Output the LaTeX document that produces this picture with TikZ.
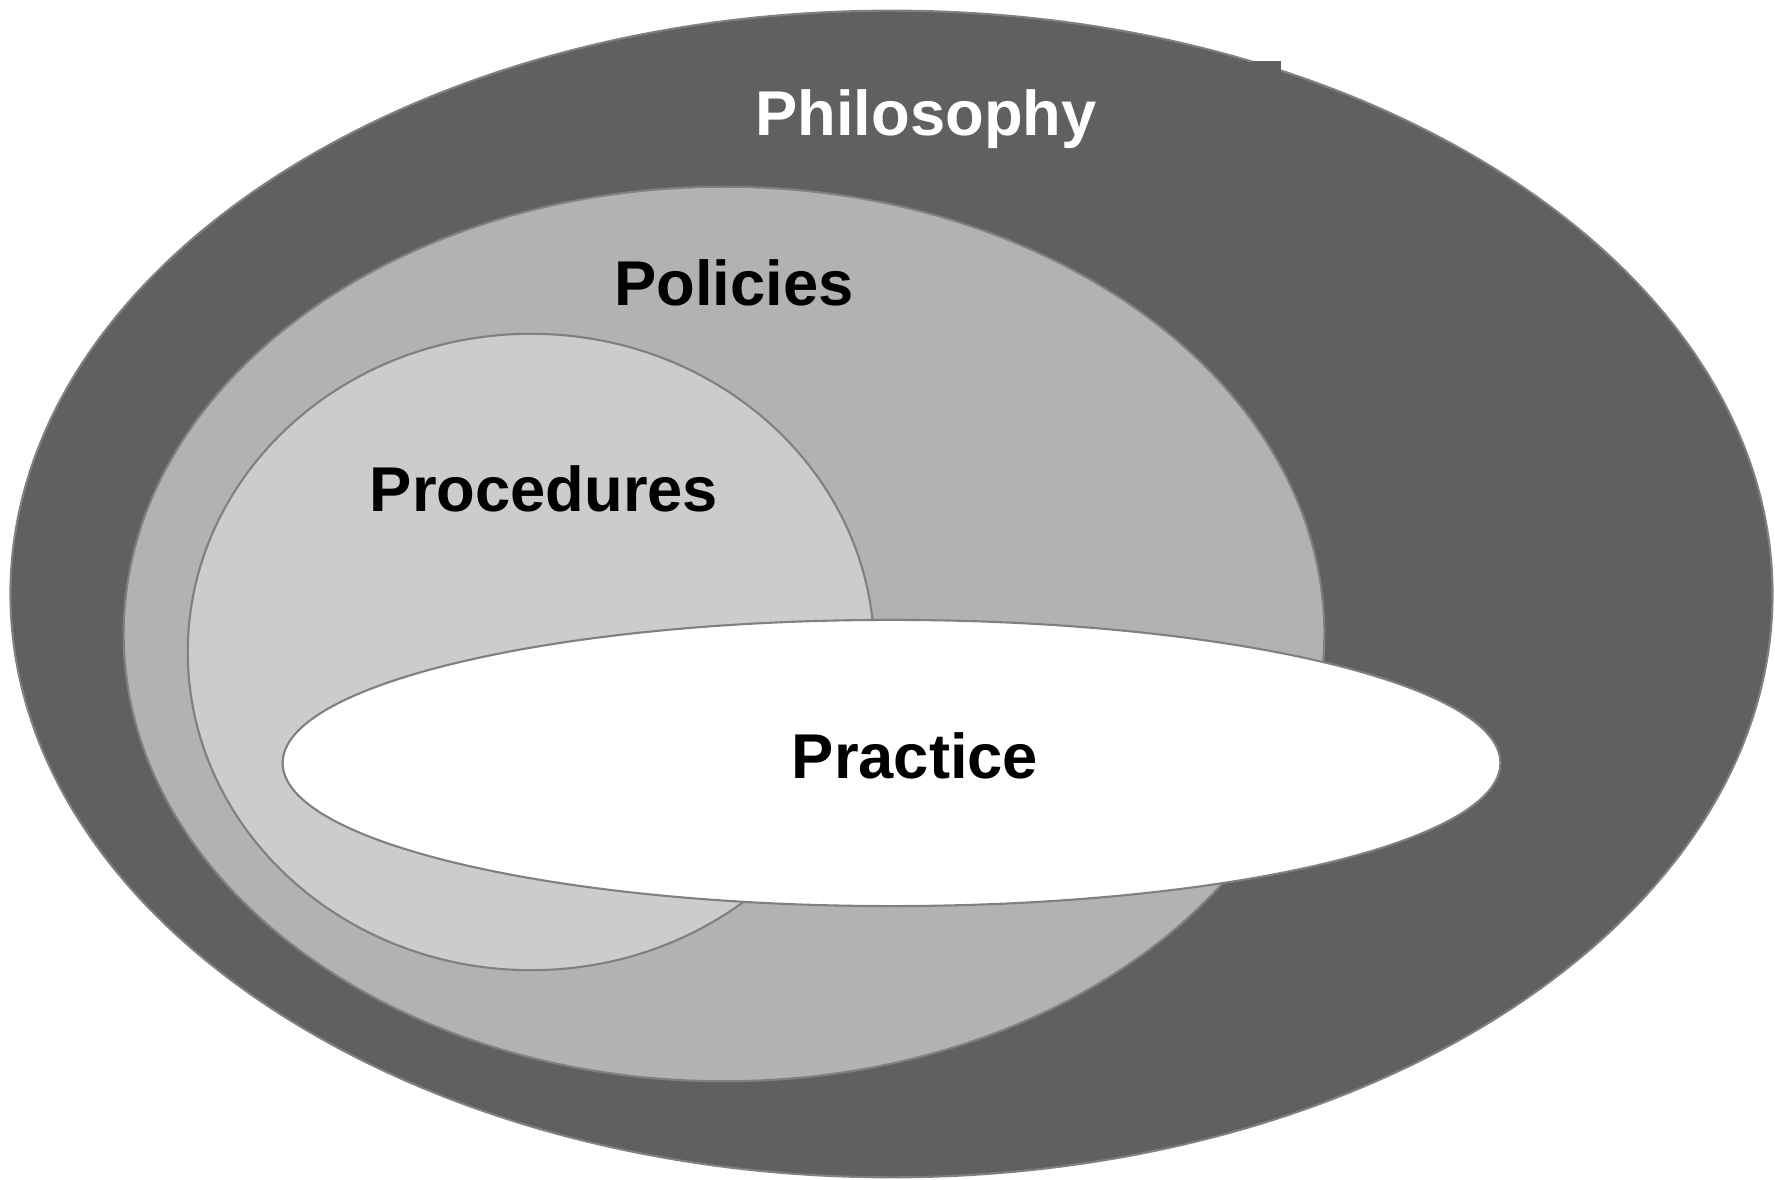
\documentclass[tikz,border=0pt]{standalone}
\usepackage{fontspec}
\setmainfont{Liberation Sans}
\usetikzlibrary{shapes.geometric, positioning}

\definecolor{philogray}{HTML}{606060}
\definecolor{policygray}{HTML}{B2B2B2}
\definecolor{proceduregray}{HTML}{CCCCCC}
\definecolor{edgegray}{HTML}{808080}

\begin{document}
\begin{tikzpicture}[x=0.01cm, y=-0.01cm,
    layer/.style={ellipse, draw=edgegray, line width=0.6pt, inner sep=0pt, outer sep=0pt},
    label/.style={anchor=base, font=\fontsize{18}{21}\selectfont\bfseries}]
                % Fix the page size
                \useasboundingbox (0,0) rectangle (1775,1180);

                % Draw the four nested ellipses
                \node[layer, fill=philogray, minimum width=17.61cm, minimum height=11.66cm] (philosophy) at (891.5,594) {};
                \fill[philogray] (1252,61) rectangle (1281,80); % small notch on the rim
                \node[layer, fill=policygray, minimum width=12cm, minimum height=8.94cm] (policies) at (724,634) {};
                \node[layer, fill=proceduregray, minimum width=6.86cm, minimum height=6.36cm] (procedures) at (531,652) {};
                \node[layer, fill=white, minimum width=12.17cm, minimum height=2.86cm] (practice) at (891.5,763) {};

                % Labels
                \node[label, text=white] (philosophytext) at (926,136) {Philosophy};
                \node[label] (policiestext) at (734,306) {Policies};
                \node[label] (procedurestext) at (544,512) {Procedures};
                \node[label] (practicetext) at (915,779) {Practice};
            \end{tikzpicture}
\end{document}
